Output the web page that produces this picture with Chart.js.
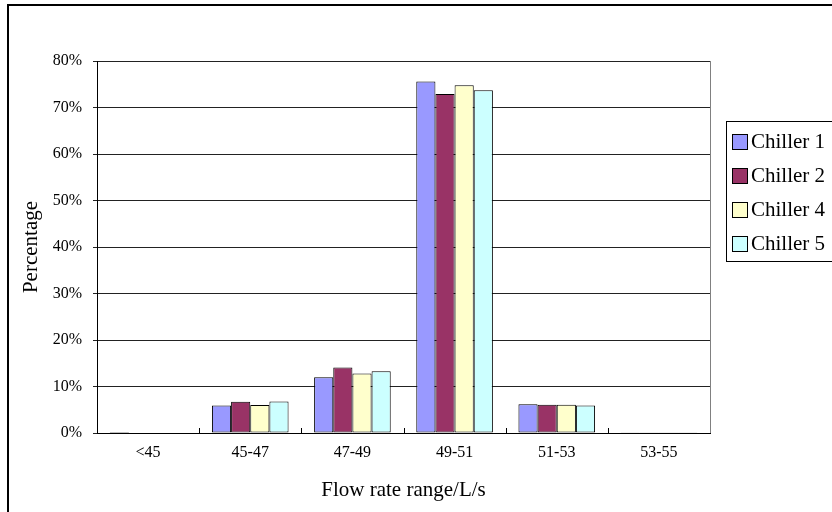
<!DOCTYPE html>
<html>
<head>
<meta charset="utf-8">
<script src="https://cdn.jsdelivr.net/npm/chart.js@4.4.1/dist/chart.umd.min.js"></script>
<style>
  html, body { margin: 0; padding: 0; background: #fff; }
  #wrap { width: 832px; height: 512px; position: relative; }
</style>
</head>
<body>
<div id="wrap"><canvas id="c" width="832" height="512"></canvas></div>
<script>
// Flow rate bins (L/s)
const categories = ['<45', '45-47', '47-49', '49-51', '51-53', '53-55'];

// Share of operating time in each bin, percent
const chiller1 = [0.2, 5.9, 12.0, 75.6, 6.2, 0.05];
const chiller2 = [0.1, 6.7, 14.1, 72.9, 6.1, 0.05];
const chiller4 = [0.1, 6.0, 12.8, 74.8, 6.1, 0.05];
const chiller5 = [0.1, 6.8, 13.3, 73.7, 5.9, 0.05];

const seriesNames = ['Chiller 1', 'Chiller 2', 'Chiller 4', 'Chiller 5'];
const yTicks = [0, 10, 20, 30, 40, 50, 60, 70, 80];

const SERIF = '"Liberation Serif", "Times New Roman", serif';
const colors = ['#9999FF', '#993366', '#FFFFCC', '#CCFFFF'];

// Outer frame, inner tick marks on the category axis, and a boxed legend
const decor = {
  id: 'decor',
  beforeDraw(chart) {
    const ctx = chart.ctx;
    ctx.save();
    ctx.fillStyle = '#fff';
    ctx.fillRect(0, 0, chart.width, chart.height);
    ctx.strokeStyle = '#000';
    ctx.lineWidth = 2;
    ctx.strokeRect(8, 5, chart.width + 20, chart.height + 20);
    ctx.restore();
  },
  afterDatasetsDraw(chart) {
    const ctx = chart.ctx;
    const a = chart.chartArea;
    const xs = chart.scales.x;
    ctx.save();
    // right edge of plot area
    ctx.strokeStyle = '#808080';
    ctx.lineWidth = 1;
    ctx.beginPath();
    ctx.moveTo(Math.round(a.right) + 0.5, a.top);
    ctx.lineTo(Math.round(a.right) + 0.5, a.bottom);
    ctx.stroke();
    // tick marks between categories, pointing up into the plot
    ctx.strokeStyle = '#000';
    for (let i = 1; i < categories.length; i++) {
      const x = Math.round((xs.getPixelForTick(i - 1) + xs.getPixelForTick(i)) / 2) + 0.5;
      ctx.beginPath();
      ctx.moveTo(x, a.bottom);
      ctx.lineTo(x, a.bottom - 5);
      ctx.stroke();
    }
    ctx.restore();
  },
  afterDraw(chart) {
    const ctx = chart.ctx;
    const left = 726, top = 121, rowH = 34;
    const ds = chart.data.datasets;
    ctx.save();
    ctx.strokeStyle = '#000';
    ctx.lineWidth = 1;
    ctx.strokeRect(left + 0.5, top + 0.5, 140, ds.length * rowH + 4);
    ctx.font = '21px ' + SERIF;
    ctx.textBaseline = 'middle';
    ctx.textAlign = 'left';
    ds.forEach((d, i) => {
      const cy = top + 20 + i * rowH;
      ctx.fillStyle = d.backgroundColor;
      ctx.fillRect(732, cy - 7, 15, 15);
      ctx.strokeRect(732.5, cy - 6.5, 15, 15);
      ctx.fillStyle = '#000';
      ctx.fillText(d.label, 751, cy + 1);
    });
    ctx.restore();
  }
};

const seriesData = [chiller1, chiller2, chiller4, chiller5];

new Chart(document.getElementById('c'), {
  type: 'bar',
  data: {
    labels: categories,
    datasets: seriesData.map((vals, i) => ({
      label: seriesNames[i],
      data: vals,
      backgroundColor: colors[i],
      borderColor: '#000',
      borderWidth: 1,
      borderSkipped: false,
      categoryPercentage: 0.75,
      barPercentage: 1.0
    }))
  },
  options: {
    responsive: false,
    animation: false,
    devicePixelRatio: 1,
    layout: { padding: { left: 7, top: 61, right: 122, bottom: 0 } },
    plugins: {
      legend: { display: false },
      tooltip: { enabled: false }
    },
    scales: {
      x: {
        grid: { display: false },
        border: { display: true, color: '#000', width: 1 },
        ticks: {
          color: '#000',
          font: { family: SERIF, size: 16 },
          padding: 2,
          maxRotation: 0
        },
        title: {
          display: true,
          text: 'Flow rate range/L/s',
          color: '#000',
          font: { family: SERIF, size: 21 },
          padding: { top: 4, bottom: 9 }
        },
        afterFit(s) { s.height = 79; }
      },
      y: {
        min: 0,
        max: 80,
        afterBuildTicks(s) { s.ticks = yTicks.map(v => ({ value: v })); },
        grid: { color: '#222', lineWidth: 1, tickLength: 4, drawTicks: true },
        border: { display: true, color: '#000', width: 1 },
        ticks: {
          color: '#000',
          font: { family: SERIF, size: 16 },
          padding: 11,
          callback: v => v + '%'
        },
        title: {
          display: true,
          text: 'Percentage',
          color: '#000',
          font: { family: SERIF, size: 21 },
          padding: { top: 12, bottom: 4 }
        },
        afterFit(s) { s.width = 90; }
      }
    }
  },
  plugins: [decor]
});
</script>
</body>
</html>
